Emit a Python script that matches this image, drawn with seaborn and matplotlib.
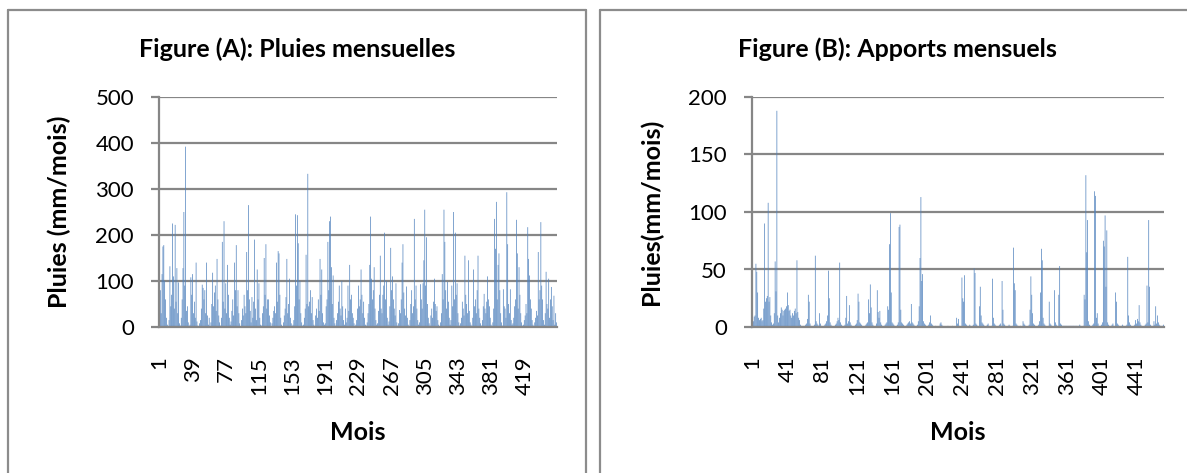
import numpy as np
import pandas as pd
import matplotlib
matplotlib.use("Agg")
import matplotlib.pyplot as plt
from matplotlib.lines import Line2D
import seaborn as sns

# ---------------- data ----------------
title_a = "Figure (A): Pluies mensuelles"
title_b = "Figure (B): Apports mensuels"
ylabel_a = "Pluies (mm/mois)"
ylabel_b = "Pluies(mm/mois)"
xlabel = "Mois"

pluies = [
    10, 80, 30, 115, 175, 178, 100, 60, 20, 5, 2, 15,
    132, 45, 70, 225, 110, 40, 222, 55, 128, 30, 97, 8,
    3, 20, 60, 128, 250, 90, 392, 35, 45, 10, 2, 5,
    108, 70, 115, 30, 55, 20, 140, 12, 3, 0, 8, 15,
    40, 92, 85, 60, 80, 30, 140, 25, 5, 20, 2, 10,
    50, 118, 45, 75, 90, 35, 148, 60, 25, 10, 3, 20,
    185, 55, 230, 40, 95, 30, 135, 70, 20, 5, 12, 35,
    60, 25, 140, 80, 178, 45, 80, 30, 8, 2, 15, 40,
    25, 70, 45, 30, 163, 80, 265, 60, 35, 10, 65, 20,
    55, 190, 40, 15, 125, 60, 95, 20, 5, 3, 30, 45,
    150, 70, 180, 40, 60, 60, 25, 10, 2, 8, 20, 35,
    45, 30, 140, 55, 165, 160, 70, 20, 5, 0, 10, 25,
    40, 65, 148, 30, 50, 105, 20, 8, 2, 5, 15, 45,
    245, 90, 243, 182, 60, 100, 30, 10, 3, 5, 20, 40,
    157, 50, 333, 45, 55, 80, 30, 65, 15, 5, 2, 25,
    40, 20, 60, 35, 148, 70, 125, 30, 10, 5, 8, 45,
    60, 185, 80, 230, 240, 130, 50, 112, 20, 8, 3, 15,
    30, 55, 90, 40, 25, 100, 45, 15, 5, 40, 10, 20,
    90, 35, 135, 60, 70, 30, 20, 8, 2, 5, 15, 40,
    90, 45, 60, 125, 70, 30, 55, 20, 5, 3, 10, 30,
    50, 135, 240, 105, 60, 80, 130, 40, 15, 5, 8, 35,
    70, 155, 40, 30, 70, 90, 205, 60, 100, 20, 5, 12,
    45, 172, 80, 110, 60, 40, 25, 95, 10, 3, 8, 37,
    30, 60, 140, 180, 75, 40, 25, 88, 20, 5, 2, 15,
    50, 80, 30, 45, 235, 60, 90, 40, 15, 5, 10, 93,
    60, 40, 95, 145, 255, 90, 195, 50, 20, 8, 3, 25,
    40, 20, 55, 105, 50, 35, 45, 15, 5, 2, 10, 30,
    115, 60, 255, 185, 80, 40, 98, 55, 20, 5, 15, 90,
    45, 250, 60, 205, 70, 95, 30, 10, 3, 8, 20, 55,
    40, 25, 155, 70, 50, 30, 145, 35, 10, 5, 2, 20,
    125, 45, 60, 30, 80, 155, 40, 20, 8, 3, 15, 45,
    72, 40, 30, 55, 110, 60, 45, 20, 5, 2, 10, 40,
    235, 170, 272, 60, 135, 160, 80, 30, 10, 3, 82, 45,
    40, 20, 293, 180, 50, 30, 82, 15, 5, 8, 20, 45,
    60, 233, 160, 40, 130, 70, 30, 10, 3, 5, 15, 25,
    50, 30, 217, 148, 112, 60, 40, 15, 5, 2, 10, 20,
    35, 25, 163, 60, 80, 228, 90, 60, 15, 5, 30, 120,
    50, 40, 105, 20, 60, 87, 45, 15, 68, 5, 30, 10,
]

apports = [
    8, 5, 9, 10, 55, 48, 30, 8, 6, 7, 8, 5,
    6, 16, 90, 22, 25, 27, 108, 22, 26, 10, 4, 2,
    3, 12, 57, 31, 188, 10, 4, 8, 12, 17, 15, 10,
    14, 15, 16, 18, 30, 19, 14, 15, 10, 8, 12, 10,
    14, 16, 12, 58, 13, 8, 6, 2, 1, 0, 1, 0,
    1, 2, 3, 7, 28, 22, 3, 1, 0, 0, 1, 2,
    62, 5, 3, 2, 1, 12, 3, 1, 0, 0, 1, 2,
    3, 5, 10, 49, 25, 4, 2, 1, 0, 0, 1, 2,
    3, 5, 8, 6, 56, 4, 2, 1, 0, 1, 2, 8,
    27, 3, 5, 19, 4, 2, 1, 0, 0, 1, 2, 3,
    6, 29, 22, 4, 3, 2, 1, 0, 0, 1, 2, 3,
    4, 24, 12, 37, 17, 4, 2, 1, 0, 1, 3, 32,
    13, 8, 14, 4, 2, 1, 0, 1, 2, 3, 4, 18,
    15, 72, 99, 30, 4, 3, 2, 1, 0, 1, 2, 4,
    87, 89, 15, 4, 3, 2, 1, 0, 1, 2, 3, 4,
    5, 3, 20, 4, 3, 2, 1, 0, 1, 2, 5, 18,
    60, 113, 40, 46, 5, 3, 2, 1, 0, 1, 2, 4,
    10, 3, 2, 1, 0, 0, 1, 0, 0, 0, 1, 3,
    4, 2, 1, 0, 0, 0, 0, 0, 1, 0, 0, 0,
    0, 1, 0, 0, 0, 0, 8, 3, 7, 1, 0, 0,
    43, 25, 22, 45, 3, 2, 1, 0, 1, 2, 1, 0,
    1, 2, 51, 47, 3, 2, 1, 0, 18, 35, 10, 4,
    3, 2, 1, 0, 1, 2, 3, 1, 0, 0, 1, 42,
    8, 3, 2, 1, 0, 0, 1, 2, 3, 1, 40, 15,
    3, 2, 1, 0, 0, 1, 2, 1, 0, 0, 1, 69,
    38, 32, 3, 2, 1, 0, 0, 1, 0, 0, 5, 3,
    2, 1, 0, 0, 1, 2, 15, 44, 28, 12, 3, 2,
    1, 0, 0, 1, 2, 5, 30, 68, 58, 8, 3, 2,
    1, 0, 0, 1, 22, 3, 2, 1, 0, 0, 32, 4,
    2, 1, 0, 28, 53, 3, 2, 1, 1, 1, 1, 1,
    1, 1, 1, 1, 1, 1, 1, 1, 1, 1, 1, 1,
    1, 0, 1, 2, 1, 0, 0, 1, 28, 24, 132, 65,
    93, 5, 2, 1, 0, 1, 2, 3, 118, 114, 8, 12,
    3, 1, 0, 1, 2, 4, 75, 70, 97, 35, 84, 4,
    2, 1, 0, 1, 2, 3, 1, 0, 30, 22, 3, 2,
    1, 0, 0, 1, 2, 1, 0, 0, 1, 2, 61, 10,
    4, 2, 1, 0, 0, 1, 2, 6, 3, 7, 5, 19,
    4, 2, 1, 0, 0, 1, 2, 3, 36, 4, 93, 35,
    2, 1, 0, 1, 5, 2, 18, 3, 10, 4, 2, 1,
    1, 0, 1, 2,
]

yticks_a = [0, 100, 200, 300, 400, 500]
yticks_b = [0, 50, 100, 150, 200]
xtick_step_a = 38
xtick_step_b = 40

# ---------------- style ----------------
sns.set_theme(style="white")
plt.rcParams["font.family"] = ["Lato", "DejaVu Sans"]

W, H = 1187, 473
fig = plt.figure(figsize=(W / 100, H / 100), dpi=100)
fig.patch.set_facecolor("white")

BAR = "#4F81BD"
GRID = "#868686"
BORDER = "#8C8C8C"
BOLD_SIZE = 18


def px(x, y):
    return x / W, 1 - y / H


def make_panel(values, rect_px, yticks, step, title, ylab, title_x, ylab_x):
    x0, y0, x1, y1 = rect_px
    ax = fig.add_axes([x0 / W, 1 - y1 / H, (x1 - x0) / W, (y1 - y0) / H])
    n = len(values)
    df = pd.DataFrame({"mois": np.arange(1, n + 1), "val": values})
    sns.barplot(data=df, x="mois", y="val", ax=ax, color=BAR, width=0.8,
                errorbar=None, saturation=1, linewidth=0, edgecolor="none")
    for p in ax.patches:
        p.set_snap(False)
        p.set_antialiased(True)
        p.set_zorder(2)
    ax.set_xlim(-0.5, n - 0.5)
    ax.set_ylim(yticks[0], yticks[-1])
    ax.set_yticks(yticks)
    pos = np.arange(0, n, step)
    ax.set_xticks(pos)
    ax.set_xticklabels([str(p + 1) for p in pos], rotation=90)
    ax.set_xlabel("")
    ax.set_ylabel("")
    ax.yaxis.grid(True, color=GRID, linewidth=1.6)
    ax.set_axisbelow(True)
    for s in ["top", "right"]:
        ax.spines[s].set_visible(False)
    ax.spines["left"].set_color(GRID)
    ax.spines["left"].set_linewidth(1.6)
    ax.spines["bottom"].set_color(GRID)
    ax.spines["bottom"].set_linewidth(1.6)
    ax.tick_params(axis="y", length=6, width=1.6, color=GRID, pad=12,
                   labelsize=16, labelcolor="black", left=True)
    ax.tick_params(axis="x", length=0, pad=21, labelsize=16,
                   labelcolor="black", bottom=True)
    cx = (x0 + x1) / 2
    fig.text(*px(title_x, 49), title, ha="center", va="center",
             fontsize=BOLD_SIZE, fontweight="bold", color="black")
    fig.text(*px(ylab_x, 212), ylab, ha="center", va="center", rotation=90,
             fontsize=BOLD_SIZE, fontweight="bold", color="black")
    fig.text(*px(cx, 432), xlabel, ha="center", va="center",
             fontsize=BOLD_SIZE, fontweight="bold", color="black")
    return ax


make_panel(pluies, (159, 97, 557, 327), yticks_a, xtick_step_a,
           title_a, ylabel_a, 297, 59)
make_panel(apports, (752, 97, 1164, 327), yticks_b, xtick_step_b,
           title_b, ylabel_b, 897, 651)


def seg(xa, ya, xb, yb):
    (fx0, fy0), (fx1, fy1) = px(xa, ya), px(xb, yb)
    fig.add_artist(Line2D([fx0, fx1], [fy0, fy1], transform=fig.transFigure,
                          color=BORDER, linewidth=1.6))


seg(8, 10, 586, 10)
seg(8, 10, 8, 480)
seg(586, 10, 586, 480)
seg(600, 10, 1190, 10)
seg(600, 10, 600, 480)

fig.savefig("out.png", dpi=100, facecolor="white")
